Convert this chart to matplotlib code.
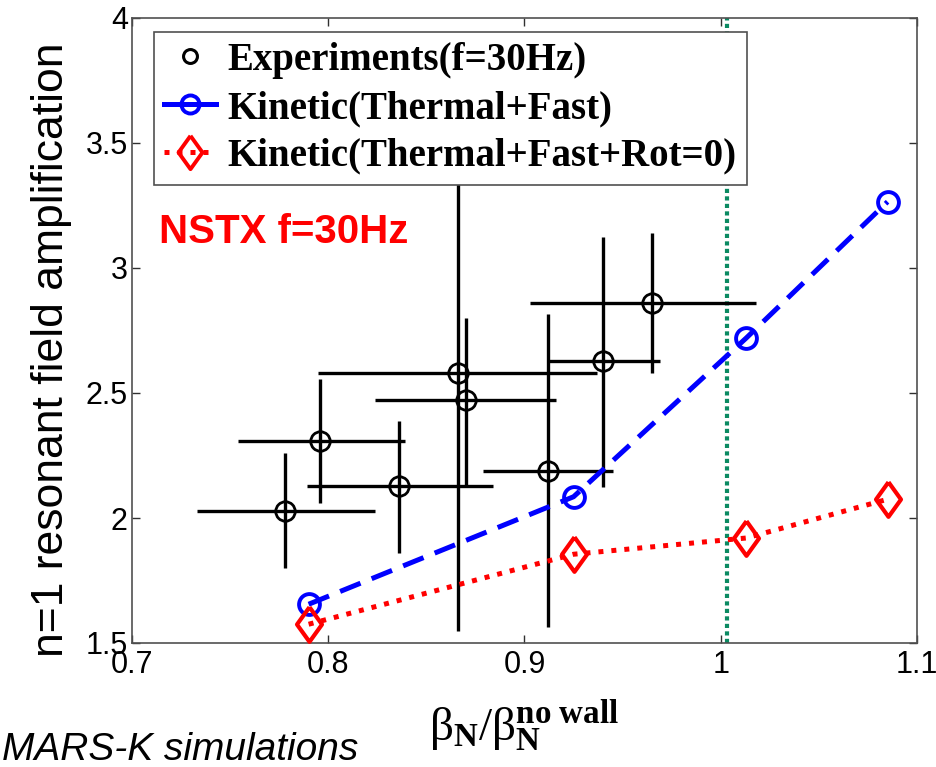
import matplotlib
matplotlib.use("Agg")
import matplotlib.pyplot as plt
from matplotlib.lines import Line2D
from matplotlib.ticker import FixedLocator, FixedFormatter
import numpy as np

# ---- data ---------------------------------------------------------------
# Measured amplification (f = 30 Hz) with asymmetric error ranges
exp_x = [0.778, 0.796, 0.836, 0.866, 0.870, 0.912, 0.940, 0.965]
exp_y = [2.03, 2.31, 2.13, 2.58, 2.47, 2.19, 2.63, 2.86]
exp_x_lo = [0.733, 0.754, 0.789, 0.795, 0.824, 0.879, 0.912, 0.903]
exp_x_hi = [0.824, 0.839, 0.884, 0.937, 0.916, 0.945, 0.969, 1.018]
exp_y_lo = [1.80, 2.06, 1.86, 1.55, 2.13, 1.565, 2.125, 2.58]
exp_y_hi = [2.26, 2.555, 2.39, 3.50, 2.80, 2.815, 3.125, 3.14]

# MARS-K kinetic results
kin_x = [0.790, 0.925, 1.013, 1.085]
kin_y = [1.655, 2.085, 2.72, 3.265]          # thermal + fast
kin_rot0_y = [1.575, 1.855, 1.92, 2.075]     # thermal + fast, no rotation

no_wall_limit = 1.003

x_ticks = [0.7, 0.8, 0.9, 1.0, 1.1]
x_tick_labels = ["0.7", "0.8", "0.9", "1", "1.1"]
y_ticks = [1.5, 2.0, 2.5, 3.0, 3.5, 4.0]
y_tick_labels = ["1.5", "2", "2.5", "3", "3.5", "4"]

# ---- fonts --------------------------------------------------------------
plt.rcParams["font.family"] = ["Liberation Sans", "DejaVu Sans"]
plt.rcParams["mathtext.fontset"] = "custom"
plt.rcParams["mathtext.rm"] = "Liberation Serif"
plt.rcParams["mathtext.bf"] = "Liberation Serif:bold"
plt.rcParams["mathtext.it"] = "Liberation Serif:italic"

# MATLAB-style diamond (wider than matplotlib's thin diamond)
diamond = [(0, 1), (0.72, 0), (0, -1), (-0.72, 0), (0, 1)]

# ---- figure -------------------------------------------------------------
fig = plt.figure(figsize=(9.37, 7.67), dpi=100)
ax = fig.add_axes([132 / 937, 124 / 767, 785 / 937, 625 / 767])

ex = np.array(exp_x)
ey = np.array(exp_y)
xerr = [ex - np.array(exp_x_lo), np.array(exp_x_hi) - ex]
yerr = [ey - np.array(exp_y_lo), np.array(exp_y_hi) - ey]

ax.errorbar(ex, ey, xerr=xerr, yerr=yerr, fmt="o", color="black",
            mfc="none", mec="black", ms=14, mew=2.0, elinewidth=2.4,
            capsize=0, zorder=3)

ax.axvline(no_wall_limit, color="#0b8a62", lw=3.0, ls=(0, (1, 0.8)), zorder=2)

ax.plot(kin_x, kin_y, color="#0000ff", lw=3.6, ls=(0, (4.4, 2.4)),
        marker="o", ms=15, mfc="none", mec="#0000ff", mew=2.8, zorder=4)
ax.plot(kin_x, kin_rot0_y, color="#ff0000", lw=3.6, ls=(0, (1, 1.6)),
        marker=diamond, ms=25, mfc="none", mec="#ff0000", mew=3.0, zorder=4)

ax.set_xlim(0.7, 1.1)
ax.set_ylim(1.5, 4.0)
ax.xaxis.set_major_locator(FixedLocator(x_ticks))
ax.xaxis.set_major_formatter(FixedFormatter(x_tick_labels))
ax.yaxis.set_major_locator(FixedLocator(y_ticks))
ax.yaxis.set_major_formatter(FixedFormatter(y_tick_labels))
ax.tick_params(direction="in", length=6, width=1.0, color="#303030",
               top=True, right=True, labelsize=22)
ax.tick_params(axis="x", pad=5)
ax.tick_params(axis="y", pad=3)
for s in ax.spines.values():
    s.set_color("#505050")
    s.set_linewidth(1.2)

# axis labels
ax.set_ylabel("n=1 resonant field amplification", va="center", fontsize=32)
ax.yaxis.set_label_coords(-0.103, 0.469)
ax.set_xlabel(r"$\mathrm{\beta}_{\mathbf{N}}\mathrm{/\beta}_{\mathbf{N}}^{\mathbf{no\ wall}}$",
              fontsize=34)
ax.xaxis.set_label_coords(0.5, -0.088)

ax.text(0.714, 3.1, "NSTX f=30Hz", color="#ff0000", fontsize=29,
        fontweight="bold", ha="left", va="baseline")

# legend
handles = [
    Line2D([], [], ls="none", marker="o", ms=10, mfc="none", mec="black", mew=2.2),
    Line2D([], [], color="#0000ff", lw=3.6, ls="-", marker="o", ms=13,
           mfc="none", mec="#0000ff", mew=2.8),
    Line2D([], [], color="#ff0000", lw=3.6, ls=(0, (1, 1.6)), marker=diamond,
           ms=24, mfc="none", mec="#ff0000", mew=2.8),
]
labels = ["Experiments(f=30Hz)", "Kinetic(Thermal+Fast)",
          "Kinetic(Thermal+Fast+Rot=0)"]
leg = ax.legend(handles, labels, loc="upper left",
                bbox_to_anchor=((154 - 132) / 785, (643 - 32) / 625),
                borderaxespad=0, prop={"family": "Liberation Serif",
                                       "weight": "bold", "size": 28},
                handlelength=1.33, handletextpad=0.3, labelspacing=0.28,
                borderpad=0.26, frameon=True, fancybox=False, numpoints=1)
leg.get_frame().set_edgecolor("#505050")
leg.get_frame().set_linewidth(1.2)
leg.get_frame().set_alpha(1)
leg.set_zorder(10)

fig.text(2 / 937, 7 / 767, "MARS-K simulations", fontsize=28, style="italic",
         ha="left", va="baseline")

fig.savefig("out.png", dpi=100, facecolor="white")
